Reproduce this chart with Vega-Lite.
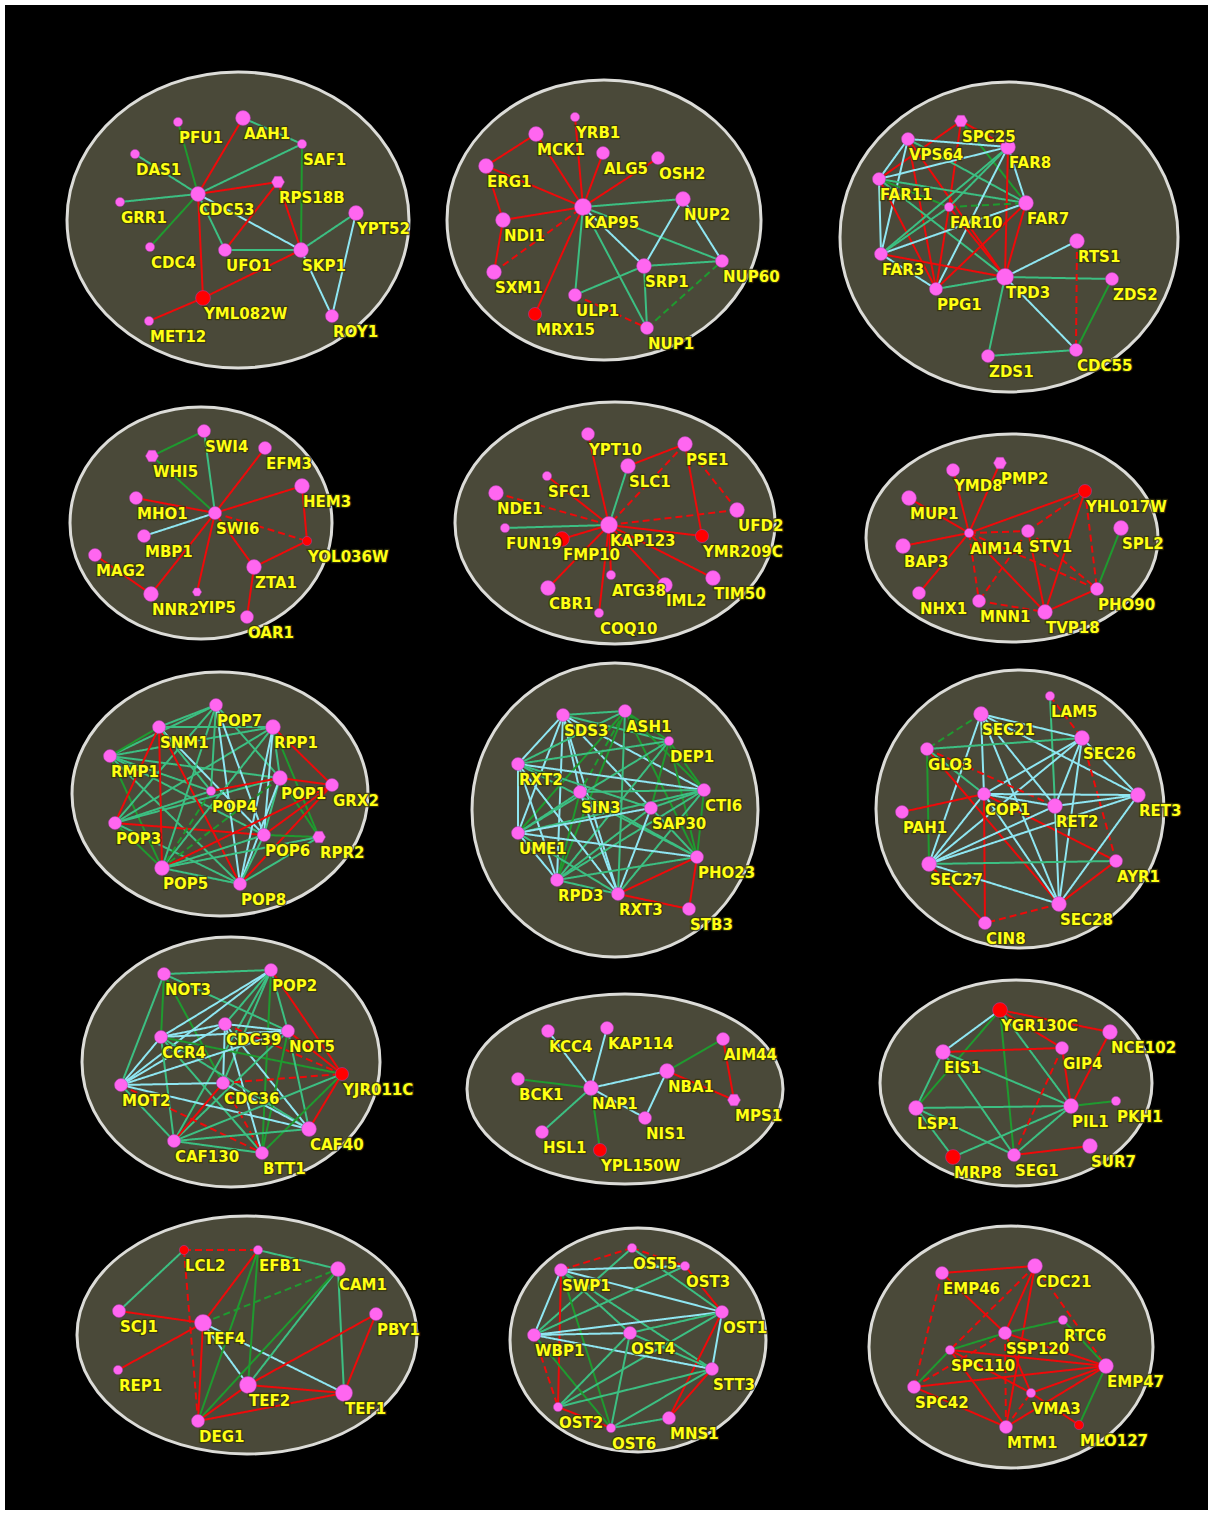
{
"$schema":"https://vega.github.io/schema/vega-lite/v6.json",
"width":1203,"height":1505,"padding":5,"autosize":{"type":"none"},
"background":"#ffffff",
"config":{"view":{"stroke":null,"fill":"#000000"}},
"datasets":{
"panels":[
{"p":1,"cx":238,"cy":220},{"p":2,"cx":604,"cy":220},{"p":3,"cx":1009,"cy":237},
{"p":4,"cx":201,"cy":523},{"p":5,"cx":615,"cy":523},{"p":6,"cx":1012,"cy":538},
{"p":7,"cx":220,"cy":794},{"p":8,"cx":615,"cy":810},{"p":9,"cx":1020,"cy":809},
{"p":10,"cx":231,"cy":1062},{"p":11,"cx":625,"cy":1089},{"p":12,"cx":1016,"cy":1083},
{"p":13,"cx":247,"cy":1335},{"p":14,"cx":638,"cy":1340},{"p":15,"cx":1011,"cy":1347}],
"nodes":[
{"n":"PFU1","x":178,"y":122,"z":"s","k":"p","h":"c"},
{"n":"AAH1","x":243,"y":118,"z":"l","k":"p","h":"c"},
{"n":"SAF1","x":302,"y":144,"z":"s","k":"p","h":"c"},
{"n":"DAS1","x":135,"y":154,"z":"s","k":"p","h":"c"},
{"n":"CDC53","x":198,"y":194,"z":"l","k":"p","h":"c"},
{"n":"RPS18B","x":278,"y":182,"z":"m","k":"p","h":"h"},
{"n":"GRR1","x":120,"y":202,"z":"s","k":"p","h":"c"},
{"n":"YPT52","x":356,"y":213,"z":"l","k":"p","h":"c"},
{"n":"CDC4","x":150,"y":247,"z":"s","k":"p","h":"c"},
{"n":"UFO1","x":225,"y":250,"z":"m","k":"p","h":"c"},
{"n":"SKP1","x":301,"y":250,"z":"l","k":"p","h":"c"},
{"n":"YML082W","x":203,"y":298,"z":"l","k":"r","h":"c"},
{"n":"MET12","x":149,"y":321,"z":"s","k":"p","h":"c"},
{"n":"ROY1","x":332,"y":316,"z":"m","k":"p","h":"c"},
{"n":"YRB1","x":575,"y":117,"z":"s","k":"p","h":"c"},
{"n":"MCK1","x":536,"y":134,"z":"l","k":"p","h":"c"},
{"n":"ALG5","x":603,"y":153,"z":"m","k":"p","h":"c"},
{"n":"OSH2","x":658,"y":158,"z":"m","k":"p","h":"c"},
{"n":"ERG1","x":486,"y":166,"z":"l","k":"p","h":"c"},
{"n":"KAP95","x":583,"y":207,"z":"x","k":"p","h":"c"},
{"n":"NUP2","x":683,"y":199,"z":"l","k":"p","h":"c"},
{"n":"NDI1","x":503,"y":220,"z":"l","k":"p","h":"c"},
{"n":"SRP1","x":644,"y":266,"z":"l","k":"p","h":"c"},
{"n":"NUP60","x":722,"y":261,"z":"m","k":"p","h":"c"},
{"n":"SXM1","x":494,"y":272,"z":"l","k":"p","h":"c"},
{"n":"ULP1","x":575,"y":295,"z":"m","k":"p","h":"c"},
{"n":"MRX15","x":535,"y":314,"z":"m","k":"r","h":"c"},
{"n":"NUP1","x":647,"y":328,"z":"m","k":"p","h":"c"},
{"n":"SPC25","x":961,"y":121,"z":"m","k":"p","h":"h"},
{"n":"VPS64","x":908,"y":139,"z":"m","k":"p","h":"c"},
{"n":"FAR8","x":1008,"y":147,"z":"l","k":"p","h":"c"},
{"n":"FAR11","x":879,"y":179,"z":"m","k":"p","h":"c"},
{"n":"FAR10","x":949,"y":207,"z":"s","k":"p","h":"c"},
{"n":"FAR7","x":1026,"y":203,"z":"l","k":"p","h":"c"},
{"n":"RTS1","x":1077,"y":241,"z":"l","k":"p","h":"c"},
{"n":"FAR3","x":881,"y":254,"z":"m","k":"p","h":"c"},
{"n":"TPD3","x":1005,"y":277,"z":"x","k":"p","h":"c"},
{"n":"ZDS2","x":1112,"y":279,"z":"m","k":"p","h":"c"},
{"n":"PPG1","x":936,"y":289,"z":"m","k":"p","h":"c"},
{"n":"ZDS1","x":988,"y":356,"z":"m","k":"p","h":"c"},
{"n":"CDC55","x":1076,"y":350,"z":"m","k":"p","h":"c"},
{"n":"SWI4","x":204,"y":431,"z":"m","k":"p","h":"c"},
{"n":"WHI5","x":152,"y":456,"z":"m","k":"p","h":"h"},
{"n":"EFM3","x":265,"y":448,"z":"m","k":"p","h":"c"},
{"n":"HEM3","x":302,"y":486,"z":"l","k":"p","h":"c"},
{"n":"MHO1","x":136,"y":498,"z":"m","k":"p","h":"c"},
{"n":"SWI6","x":215,"y":513,"z":"m","k":"p","h":"c"},
{"n":"MBP1","x":144,"y":536,"z":"m","k":"p","h":"c"},
{"n":"YOL036W","x":307,"y":541,"z":"s","k":"r","h":"c"},
{"n":"MAG2","x":95,"y":555,"z":"m","k":"p","h":"c"},
{"n":"ZTA1","x":254,"y":567,"z":"l","k":"p","h":"c"},
{"n":"NNR2","x":151,"y":594,"z":"l","k":"p","h":"c"},
{"n":"YIP5","x":197,"y":592,"z":"s","k":"p","h":"h"},
{"n":"OAR1","x":247,"y":617,"z":"m","k":"p","h":"c"},
{"n":"YPT10","x":588,"y":434,"z":"m","k":"p","h":"c"},
{"n":"PSE1","x":685,"y":444,"z":"l","k":"p","h":"c"},
{"n":"SLC1","x":628,"y":466,"z":"l","k":"p","h":"c"},
{"n":"SFC1","x":547,"y":476,"z":"s","k":"p","h":"c"},
{"n":"NDE1","x":496,"y":493,"z":"l","k":"p","h":"c"},
{"n":"UFD2","x":737,"y":510,"z":"l","k":"p","h":"c"},
{"n":"KAP123","x":609,"y":525,"z":"x","k":"p","h":"c"},
{"n":"FUN19","x":505,"y":528,"z":"s","k":"p","h":"c"},
{"n":"FMP10","x":562,"y":539,"z":"l","k":"r","h":"c"},
{"n":"YMR209C","x":702,"y":536,"z":"m","k":"r","h":"c"},
{"n":"ATG38","x":611,"y":575,"z":"s","k":"p","h":"c"},
{"n":"IML2","x":665,"y":585,"z":"l","k":"p","h":"c"},
{"n":"TIM50","x":713,"y":578,"z":"l","k":"p","h":"c"},
{"n":"CBR1","x":548,"y":588,"z":"l","k":"p","h":"c"},
{"n":"COQ10","x":599,"y":613,"z":"s","k":"p","h":"c"},
{"n":"PMP2","x":1000,"y":463,"z":"m","k":"p","h":"h"},
{"n":"YMD8","x":953,"y":470,"z":"m","k":"p","h":"c"},
{"n":"YHL017W","x":1085,"y":491,"z":"m","k":"r","h":"c"},
{"n":"MUP1","x":909,"y":498,"z":"l","k":"p","h":"c"},
{"n":"SPL2","x":1121,"y":528,"z":"l","k":"p","h":"c"},
{"n":"AIM14","x":969,"y":533,"z":"s","k":"p","h":"c"},
{"n":"STV1","x":1028,"y":531,"z":"m","k":"p","h":"c"},
{"n":"BAP3","x":903,"y":546,"z":"l","k":"p","h":"c"},
{"n":"PHO90","x":1097,"y":589,"z":"m","k":"p","h":"c"},
{"n":"NHX1","x":919,"y":593,"z":"m","k":"p","h":"c"},
{"n":"MNN1","x":979,"y":601,"z":"m","k":"p","h":"c"},
{"n":"TVP18","x":1045,"y":612,"z":"l","k":"p","h":"c"},
{"n":"POP7","x":216,"y":705,"z":"m","k":"p","h":"c"},
{"n":"SNM1","x":159,"y":727,"z":"m","k":"p","h":"c"},
{"n":"RPP1","x":273,"y":727,"z":"l","k":"p","h":"c"},
{"n":"RMP1","x":110,"y":756,"z":"m","k":"p","h":"c"},
{"n":"POP1","x":280,"y":778,"z":"l","k":"p","h":"c"},
{"n":"GRX2","x":332,"y":785,"z":"m","k":"p","h":"c"},
{"n":"POP4","x":211,"y":791,"z":"s","k":"p","h":"c"},
{"n":"POP3","x":115,"y":823,"z":"m","k":"p","h":"c"},
{"n":"POP6","x":264,"y":835,"z":"m","k":"p","h":"c"},
{"n":"RPR2","x":319,"y":837,"z":"m","k":"p","h":"h"},
{"n":"POP5","x":162,"y":868,"z":"l","k":"p","h":"c"},
{"n":"POP8","x":240,"y":884,"z":"m","k":"p","h":"c"},
{"n":"SDS3","x":563,"y":715,"z":"m","k":"p","h":"c"},
{"n":"ASH1","x":625,"y":711,"z":"m","k":"p","h":"c"},
{"n":"DEP1","x":669,"y":741,"z":"s","k":"p","h":"c"},
{"n":"RXT2","x":518,"y":764,"z":"m","k":"p","h":"c"},
{"n":"CTI6","x":704,"y":790,"z":"m","k":"p","h":"c"},
{"n":"SIN3","x":580,"y":792,"z":"m","k":"p","h":"c"},
{"n":"SAP30","x":651,"y":808,"z":"m","k":"p","h":"c"},
{"n":"UME1","x":518,"y":833,"z":"m","k":"p","h":"c"},
{"n":"PHO23","x":697,"y":857,"z":"m","k":"p","h":"c"},
{"n":"RPD3","x":557,"y":880,"z":"m","k":"p","h":"c"},
{"n":"RXT3","x":618,"y":894,"z":"m","k":"p","h":"c"},
{"n":"STB3","x":689,"y":909,"z":"m","k":"p","h":"c"},
{"n":"LAM5","x":1050,"y":696,"z":"s","k":"p","h":"c"},
{"n":"SEC21","x":981,"y":714,"z":"l","k":"p","h":"c"},
{"n":"SEC26","x":1082,"y":738,"z":"l","k":"p","h":"c"},
{"n":"GLO3","x":927,"y":749,"z":"m","k":"p","h":"c"},
{"n":"COP1","x":984,"y":794,"z":"m","k":"p","h":"c"},
{"n":"RET3","x":1138,"y":795,"z":"l","k":"p","h":"c"},
{"n":"RET2","x":1055,"y":806,"z":"l","k":"p","h":"c"},
{"n":"PAH1","x":902,"y":812,"z":"m","k":"p","h":"c"},
{"n":"SEC27","x":929,"y":864,"z":"l","k":"p","h":"c"},
{"n":"AYR1","x":1116,"y":861,"z":"m","k":"p","h":"c"},
{"n":"SEC28","x":1059,"y":904,"z":"l","k":"p","h":"c"},
{"n":"CIN8","x":985,"y":923,"z":"m","k":"p","h":"c"},
{"n":"NOT3","x":164,"y":974,"z":"m","k":"p","h":"c"},
{"n":"POP2","x":271,"y":970,"z":"m","k":"p","h":"c"},
{"n":"CDC39","x":225,"y":1024,"z":"m","k":"p","h":"c"},
{"n":"NOT5","x":288,"y":1031,"z":"m","k":"p","h":"c"},
{"n":"CCR4","x":161,"y":1037,"z":"m","k":"p","h":"c"},
{"n":"YJR011C","x":342,"y":1074,"z":"m","k":"r","h":"c"},
{"n":"MOT2","x":121,"y":1085,"z":"m","k":"p","h":"c"},
{"n":"CDC36","x":223,"y":1083,"z":"m","k":"p","h":"c"},
{"n":"CAF40","x":309,"y":1129,"z":"l","k":"p","h":"c"},
{"n":"CAF130","x":174,"y":1141,"z":"m","k":"p","h":"c"},
{"n":"BTT1","x":262,"y":1153,"z":"m","k":"p","h":"c"},
{"n":"KCC4","x":548,"y":1031,"z":"m","k":"p","h":"c"},
{"n":"KAP114","x":607,"y":1028,"z":"m","k":"p","h":"c"},
{"n":"AIM44","x":723,"y":1039,"z":"m","k":"p","h":"c"},
{"n":"NBA1","x":667,"y":1071,"z":"l","k":"p","h":"c"},
{"n":"BCK1","x":518,"y":1079,"z":"m","k":"p","h":"c"},
{"n":"NAP1","x":591,"y":1088,"z":"l","k":"p","h":"c"},
{"n":"MPS1","x":734,"y":1100,"z":"m","k":"p","h":"h"},
{"n":"NIS1","x":645,"y":1118,"z":"m","k":"p","h":"c"},
{"n":"HSL1","x":542,"y":1132,"z":"m","k":"p","h":"c"},
{"n":"YPL150W","x":600,"y":1150,"z":"m","k":"r","h":"c"},
{"n":"YGR130C","x":1000,"y":1010,"z":"l","k":"r","h":"c"},
{"n":"NCE102","x":1110,"y":1032,"z":"l","k":"p","h":"c"},
{"n":"EIS1","x":943,"y":1052,"z":"l","k":"p","h":"c"},
{"n":"GIP4","x":1062,"y":1048,"z":"m","k":"p","h":"c"},
{"n":"LSP1","x":916,"y":1108,"z":"l","k":"p","h":"c"},
{"n":"PIL1","x":1071,"y":1106,"z":"l","k":"p","h":"c"},
{"n":"PKH1","x":1116,"y":1101,"z":"s","k":"p","h":"c"},
{"n":"SUR7","x":1090,"y":1146,"z":"l","k":"p","h":"c"},
{"n":"MRP8","x":953,"y":1157,"z":"l","k":"r","h":"c"},
{"n":"SEG1","x":1014,"y":1155,"z":"m","k":"p","h":"c"},
{"n":"LCL2","x":184,"y":1250,"z":"s","k":"r","h":"c"},
{"n":"EFB1","x":258,"y":1250,"z":"s","k":"p","h":"c"},
{"n":"CAM1","x":338,"y":1269,"z":"l","k":"p","h":"c"},
{"n":"SCJ1","x":119,"y":1311,"z":"m","k":"p","h":"c"},
{"n":"TEF4","x":203,"y":1323,"z":"x","k":"p","h":"c"},
{"n":"PBY1","x":376,"y":1314,"z":"m","k":"p","h":"c"},
{"n":"REP1","x":118,"y":1370,"z":"s","k":"p","h":"c"},
{"n":"TEF2","x":248,"y":1385,"z":"x","k":"p","h":"c"},
{"n":"TEF1","x":344,"y":1393,"z":"x","k":"p","h":"c"},
{"n":"DEG1","x":198,"y":1421,"z":"m","k":"p","h":"c"},
{"n":"OST5","x":632,"y":1248,"z":"s","k":"p","h":"c"},
{"n":"SWP1","x":561,"y":1270,"z":"m","k":"p","h":"c"},
{"n":"OST3","x":685,"y":1266,"z":"s","k":"p","h":"c"},
{"n":"OST1","x":722,"y":1312,"z":"m","k":"p","h":"c"},
{"n":"WBP1","x":534,"y":1335,"z":"m","k":"p","h":"c"},
{"n":"OST4","x":630,"y":1333,"z":"m","k":"p","h":"c"},
{"n":"STT3","x":712,"y":1369,"z":"m","k":"p","h":"c"},
{"n":"OST2","x":558,"y":1407,"z":"s","k":"p","h":"c"},
{"n":"MNS1","x":669,"y":1418,"z":"m","k":"p","h":"c"},
{"n":"OST6","x":611,"y":1428,"z":"s","k":"p","h":"c"},
{"n":"EMP46","x":942,"y":1273,"z":"m","k":"p","h":"c"},
{"n":"CDC21","x":1035,"y":1266,"z":"l","k":"p","h":"c"},
{"n":"RTC6","x":1063,"y":1320,"z":"s","k":"p","h":"c"},
{"n":"SSP120","x":1005,"y":1333,"z":"m","k":"p","h":"c"},
{"n":"SPC110","x":950,"y":1350,"z":"s","k":"p","h":"c"},
{"n":"EMP47","x":1106,"y":1366,"z":"l","k":"p","h":"c"},
{"n":"SPC42","x":914,"y":1387,"z":"m","k":"p","h":"c"},
{"n":"VMA3","x":1031,"y":1393,"z":"s","k":"p","h":"c"},
{"n":"MTM1","x":1006,"y":1427,"z":"m","k":"p","h":"c"},
{"n":"MLO127","x":1079,"y":1425,"z":"s","k":"r","h":"c"}],
"edges":[
{"s":"CDC53","t":"PFU1","c":"g"},{"s":"CDC53","t":"AAH1","c":"r"},{"s":"AAH1","t":"SAF1","c":"t"},{"s":"CDC53","t":"DAS1","c":"t"},{"s":"CDC53","t":"SAF1","c":"t"},{"s":"RPS18B","t":"CDC53","c":"r"},{"s":"CDC53","t":"GRR1","c":"t"},{"s":"CDC53","t":"CDC4","c":"g"},{"s":"CDC53","t":"UFO1","c":"t"},{"s":"CDC53","t":"SKP1","c":"c"},{"s":"RPS18B","t":"UFO1","c":"r"},{"s":"RPS18B","t":"SKP1","c":"r"},{"s":"SKP1","t":"SAF1","c":"g"},{"s":"UFO1","t":"SKP1","c":"t"},{"s":"YPT52","t":"SKP1","c":"t"},{"s":"YPT52","t":"ROY1","c":"c"},{"s":"SKP1","t":"ROY1","c":"c"},{"s":"CDC53","t":"YML082W","c":"r"},{"s":"YML082W","t":"SKP1","c":"r"},{"s":"YML082W","t":"MET12","c":"r"},
{"s":"ERG1","t":"MCK1","c":"r"},{"s":"ERG1","t":"KAP95","c":"r"},{"s":"ERG1","t":"NDI1","c":"r"},{"s":"NDI1","t":"SXM1","c":"r"},{"s":"NDI1","t":"KAP95","c":"r"},{"s":"SXM1","t":"KAP95","c":"R"},{"s":"MCK1","t":"KAP95","c":"r"},{"s":"YRB1","t":"KAP95","c":"r"},{"s":"ALG5","t":"KAP95","c":"r"},{"s":"OSH2","t":"KAP95","c":"r"},{"s":"KAP95","t":"MRX15","c":"r"},{"s":"KAP95","t":"NUP2","c":"t"},{"s":"KAP95","t":"SRP1","c":"c"},{"s":"KAP95","t":"NUP60","c":"t"},{"s":"KAP95","t":"ULP1","c":"t"},{"s":"KAP95","t":"NUP1","c":"t"},{"s":"NUP2","t":"SRP1","c":"c"},{"s":"NUP2","t":"NUP60","c":"c"},{"s":"SRP1","t":"NUP60","c":"t"},{"s":"SRP1","t":"ULP1","c":"t"},{"s":"SRP1","t":"NUP1","c":"t"},{"s":"ULP1","t":"NUP1","c":"R"},{"s":"NUP1","t":"NUP60","c":"G"},
{"s":"SPC25","t":"FAR11","c":"r"},{"s":"SPC25","t":"FAR8","c":"r"},{"s":"SPC25","t":"FAR10","c":"r"},{"s":"SPC25","t":"FAR7","c":"g"},{"s":"VPS64","t":"FAR8","c":"c"},{"s":"VPS64","t":"FAR11","c":"c"},{"s":"VPS64","t":"FAR3","c":"c"},{"s":"VPS64","t":"PPG1","c":"r"},{"s":"VPS64","t":"TPD3","c":"r"},{"s":"VPS64","t":"FAR7","c":"t"},{"s":"FAR11","t":"FAR8","c":"c"},{"s":"FAR11","t":"FAR7","c":"t"},{"s":"FAR11","t":"FAR10","c":"g"},{"s":"FAR11","t":"FAR3","c":"c"},{"s":"FAR11","t":"PPG1","c":"r"},{"s":"FAR11","t":"TPD3","c":"t"},{"s":"FAR8","t":"FAR3","c":"t"},{"s":"FAR8","t":"PPG1","c":"c"},{"s":"FAR8","t":"FAR7","c":"c"},{"s":"FAR8","t":"TPD3","c":"r"},{"s":"FAR8","t":"FAR10","c":"t"},{"s":"FAR10","t":"FAR7","c":"G"},{"s":"FAR10","t":"PPG1","c":"r"},{"s":"FAR10","t":"TPD3","c":"r"},{"s":"FAR7","t":"FAR3","c":"c"},{"s":"FAR7","t":"PPG1","c":"r"},{"s":"FAR7","t":"TPD3","c":"r"},{"s":"FAR3","t":"TPD3","c":"r"},{"s":"FAR3","t":"PPG1","c":"c"},{"s":"FAR3","t":"FAR10","c":"t"},{"s":"TPD3","t":"PPG1","c":"t"},{"s":"TPD3","t":"RTS1","c":"c"},{"s":"TPD3","t":"ZDS2","c":"t"},{"s":"TPD3","t":"ZDS1","c":"t"},{"s":"TPD3","t":"CDC55","c":"c"},{"s":"RTS1","t":"CDC55","c":"R"},{"s":"ZDS2","t":"CDC55","c":"g"},{"s":"ZDS1","t":"CDC55","c":"t"},
{"s":"WHI5","t":"SWI4","c":"g"},{"s":"WHI5","t":"SWI6","c":"g"},{"s":"SWI4","t":"SWI6","c":"t"},{"s":"EFM3","t":"SWI6","c":"r"},{"s":"HEM3","t":"SWI6","c":"r"},{"s":"HEM3","t":"YOL036W","c":"r"},{"s":"MHO1","t":"SWI6","c":"r"},{"s":"MBP1","t":"SWI6","c":"c"},{"s":"SWI6","t":"YOL036W","c":"R"},{"s":"SWI6","t":"ZTA1","c":"r"},{"s":"ZTA1","t":"YOL036W","c":"r"},{"s":"NNR2","t":"SWI6","c":"r"},{"s":"YIP5","t":"SWI6","c":"r"},{"s":"MAG2","t":"NNR2","c":"r"},{"s":"OAR1","t":"ZTA1","c":"r"},
{"s":"YPT10","t":"KAP123","c":"r"},{"s":"SFC1","t":"KAP123","c":"r"},{"s":"NDE1","t":"KAP123","c":"R"},{"s":"SLC1","t":"KAP123","c":"t"},{"s":"PSE1","t":"SLC1","c":"r"},{"s":"PSE1","t":"KAP123","c":"R"},{"s":"PSE1","t":"YMR209C","c":"r"},{"s":"PSE1","t":"UFD2","c":"R"},{"s":"UFD2","t":"KAP123","c":"R"},{"s":"KAP123","t":"FUN19","c":"t"},{"s":"KAP123","t":"FMP10","c":"r"},{"s":"KAP123","t":"YMR209C","c":"r"},{"s":"KAP123","t":"CBR1","c":"r"},{"s":"KAP123","t":"COQ10","c":"r"},{"s":"KAP123","t":"ATG38","c":"r"},{"s":"KAP123","t":"IML2","c":"r"},{"s":"KAP123","t":"TIM50","c":"r"},
{"s":"YMD8","t":"AIM14","c":"r"},{"s":"PMP2","t":"AIM14","c":"r"},{"s":"MUP1","t":"AIM14","c":"r"},{"s":"BAP3","t":"AIM14","c":"r"},{"s":"NHX1","t":"AIM14","c":"r"},{"s":"YHL017W","t":"AIM14","c":"r"},{"s":"AIM14","t":"STV1","c":"R"},{"s":"STV1","t":"YHL017W","c":"R"},{"s":"AIM14","t":"MNN1","c":"R"},{"s":"AIM14","t":"TVP18","c":"r"},{"s":"AIM14","t":"PHO90","c":"R"},{"s":"STV1","t":"MNN1","c":"R"},{"s":"STV1","t":"TVP18","c":"r"},{"s":"STV1","t":"PHO90","c":"R"},{"s":"MNN1","t":"TVP18","c":"R"},{"s":"TVP18","t":"YHL017W","c":"r"},{"s":"TVP18","t":"PHO90","c":"r"},{"s":"YHL017W","t":"PHO90","c":"R"},{"s":"SPL2","t":"PHO90","c":"g"},
{"s":"SNM1","t":"POP7","c":"t"},{"s":"RPP1","t":"SNM1","c":"c"},{"s":"RMP1","t":"POP7","c":"t"},{"s":"RMP1","t":"SNM1","c":"g"},{"s":"RMP1","t":"RPP1","c":"t"},{"s":"RMP1","t":"POP1","c":"t"},{"s":"RMP1","t":"POP4","c":"t"},{"s":"RMP1","t":"POP6","c":"t"},{"s":"RMP1","t":"POP8","c":"t"},{"s":"RMP1","t":"POP5","c":"g"},{"s":"POP3","t":"SNM1","c":"r"},{"s":"POP3","t":"POP7","c":"t"},{"s":"POP3","t":"RPP1","c":"t"},{"s":"POP3","t":"POP1","c":"t"},{"s":"POP3","t":"POP6","c":"r"},{"s":"POP3","t":"POP5","c":"g"},{"s":"POP3","t":"POP8","c":"t"},{"s":"SNM1","t":"POP5","c":"r"},{"s":"SNM1","t":"POP8","c":"r"},{"s":"SNM1","t":"POP6","c":"c"},{"s":"SNM1","t":"POP4","c":"t"},{"s":"SNM1","t":"RPP1","c":"t"},{"s":"POP7","t":"POP4","c":"t"},{"s":"POP7","t":"POP8","c":"c"},{"s":"POP7","t":"POP6","c":"c"},{"s":"POP7","t":"POP5","c":"t"},{"s":"POP7","t":"POP1","c":"t"},{"s":"RPP1","t":"POP1","c":"t"},{"s":"RPP1","t":"GRX2","c":"r"},{"s":"RPP1","t":"POP6","c":"c"},{"s":"RPP1","t":"POP8","c":"c"},{"s":"RPP1","t":"POP5","c":"t"},{"s":"RPP1","t":"RPR2","c":"g"},{"s":"POP1","t":"GRX2","c":"r"},{"s":"POP1","t":"POP4","c":"r"},{"s":"POP1","t":"POP5","c":"G"},{"s":"POP1","t":"POP6","c":"t"},{"s":"POP1","t":"POP8","c":"c"},{"s":"POP1","t":"RPR2","c":"g"},{"s":"GRX2","t":"POP5","c":"r"},{"s":"GRX2","t":"POP6","c":"r"},{"s":"GRX2","t":"POP8","c":"r"},{"s":"RPR2","t":"POP6","c":"g"},{"s":"RPR2","t":"POP8","c":"t"},{"s":"RPR2","t":"POP5","c":"t"},{"s":"POP6","t":"POP5","c":"t"},{"s":"POP6","t":"POP8","c":"t"},{"s":"POP4","t":"POP5","c":"G"},{"s":"POP5","t":"POP8","c":"t"},{"s":"POP3","t":"POP4","c":"t"},
{"s":"SDS3","t":"ASH1","c":"t"},{"s":"SDS3","t":"DEP1","c":"t"},{"s":"SDS3","t":"RXT2","c":"c"},{"s":"SDS3","t":"UME1","c":"c"},{"s":"SDS3","t":"RPD3","c":"c"},{"s":"SDS3","t":"SAP30","c":"c"},{"s":"SDS3","t":"CTI6","c":"c"},{"s":"SDS3","t":"SIN3","c":"c"},{"s":"SDS3","t":"RXT3","c":"c"},{"s":"ASH1","t":"RXT2","c":"t"},{"s":"ASH1","t":"UME1","c":"g"},{"s":"ASH1","t":"SIN3","c":"G"},{"s":"ASH1","t":"RPD3","c":"g"},{"s":"ASH1","t":"RXT3","c":"t"},{"s":"ASH1","t":"CTI6","c":"g"},{"s":"ASH1","t":"PHO23","c":"g"},{"s":"ASH1","t":"DEP1","c":"g"},{"s":"DEP1","t":"RXT2","c":"t"},{"s":"DEP1","t":"UME1","c":"t"},{"s":"DEP1","t":"SAP30","c":"g"},{"s":"DEP1","t":"PHO23","c":"g"},{"s":"DEP1","t":"CTI6","c":"g"},{"s":"DEP1","t":"RPD3","c":"t"},{"s":"RXT2","t":"UME1","c":"c"},{"s":"RXT2","t":"RPD3","c":"c"},{"s":"RXT2","t":"RXT3","c":"c"},{"s":"RXT2","t":"CTI6","c":"c"},{"s":"RXT2","t":"SAP30","c":"t"},{"s":"RXT2","t":"PHO23","c":"t"},{"s":"CTI6","t":"SIN3","c":"t"},{"s":"CTI6","t":"SAP30","c":"t"},{"s":"CTI6","t":"UME1","c":"t"},{"s":"CTI6","t":"PHO23","c":"g"},{"s":"CTI6","t":"RPD3","c":"t"},{"s":"CTI6","t":"RXT3","c":"t"},{"s":"SIN3","t":"RPD3","c":"g"},{"s":"SIN3","t":"RXT3","c":"c"},{"s":"SIN3","t":"PHO23","c":"t"},{"s":"SIN3","t":"UME1","c":"t"},{"s":"SAP30","t":"UME1","c":"c"},{"s":"SAP30","t":"RPD3","c":"t"},{"s":"SAP30","t":"RXT3","c":"c"},{"s":"SAP30","t":"PHO23","c":"t"},{"s":"UME1","t":"RPD3","c":"c"},{"s":"UME1","t":"RXT3","c":"t"},{"s":"UME1","t":"PHO23","c":"c"},{"s":"RPD3","t":"PHO23","c":"t"},{"s":"RPD3","t":"RXT3","c":"t"},{"s":"RXT3","t":"PHO23","c":"r"},{"s":"STB3","t":"RXT3","c":"r"},{"s":"STB3","t":"PHO23","c":"r"},
{"s":"LAM5","t":"SEC26","c":"R"},{"s":"LAM5","t":"RET2","c":"t"},{"s":"SEC21","t":"GLO3","c":"G"},{"s":"SEC21","t":"SEC26","c":"c"},{"s":"SEC21","t":"COP1","c":"c"},{"s":"SEC21","t":"RET2","c":"c"},{"s":"SEC21","t":"RET3","c":"c"},{"s":"SEC21","t":"SEC27","c":"c"},{"s":"SEC21","t":"SEC28","c":"c"},{"s":"SEC26","t":"GLO3","c":"t"},{"s":"SEC26","t":"COP1","c":"c"},{"s":"SEC26","t":"RET2","c":"c"},{"s":"SEC26","t":"RET3","c":"c"},{"s":"SEC26","t":"SEC27","c":"c"},{"s":"SEC26","t":"SEC28","c":"c"},{"s":"SEC26","t":"AYR1","c":"R"},{"s":"GLO3","t":"SEC27","c":"g"},{"s":"GLO3","t":"RET2","c":"R"},{"s":"GLO3","t":"SEC28","c":"r"},{"s":"GLO3","t":"COP1","c":"t"},{"s":"COP1","t":"PAH1","c":"r"},{"s":"COP1","t":"RET2","c":"c"},{"s":"COP1","t":"RET3","c":"c"},{"s":"COP1","t":"SEC27","c":"c"},{"s":"COP1","t":"SEC28","c":"c"},{"s":"COP1","t":"CIN8","c":"r"},{"s":"COP1","t":"AYR1","c":"r"},{"s":"RET2","t":"RET3","c":"c"},{"s":"RET2","t":"SEC27","c":"c"},{"s":"RET2","t":"SEC28","c":"c"},{"s":"RET3","t":"SEC27","c":"c"},{"s":"RET3","t":"SEC28","c":"c"},{"s":"SEC27","t":"AYR1","c":"t"},{"s":"SEC27","t":"SEC28","c":"c"},{"s":"SEC27","t":"CIN8","c":"r"},{"s":"SEC28","t":"AYR1","c":"r"},{"s":"SEC28","t":"CIN8","c":"R"},
{"s":"NOT3","t":"POP2","c":"t"},{"s":"NOT3","t":"CCR4","c":"g"},{"s":"NOT3","t":"MOT2","c":"t"},{"s":"NOT3","t":"NOT5","c":"t"},{"s":"NOT3","t":"CDC36","c":"g"},{"s":"POP2","t":"CCR4","c":"c"},{"s":"POP2","t":"MOT2","c":"c"},{"s":"POP2","t":"CDC39","c":"t"},{"s":"POP2","t":"NOT5","c":"t"},{"s":"POP2","t":"CDC36","c":"t"},{"s":"POP2","t":"BTT1","c":"g"},{"s":"POP2","t":"YJR011C","c":"r"},{"s":"POP2","t":"CAF130","c":"t"},{"s":"CDC39","t":"CCR4","c":"c"},{"s":"CDC39","t":"NOT5","c":"c"},{"s":"CDC39","t":"MOT2","c":"c"},{"s":"CDC39","t":"CDC36","c":"c"},{"s":"CDC39","t":"BTT1","c":"c"},{"s":"CDC39","t":"CAF40","c":"c"},{"s":"CDC39","t":"YJR011C","c":"R"},{"s":"NOT5","t":"YJR011C","c":"r"},{"s":"CCR4","t":"NOT5","c":"c"},{"s":"CCR4","t":"MOT2","c":"c"},{"s":"CCR4","t":"YJR011C","c":"g"},{"s":"CCR4","t":"CAF130","c":"t"},{"s":"CCR4","t":"CAF40","c":"t"},{"s":"CCR4","t":"BTT1","c":"t"},{"s":"NOT5","t":"MOT2","c":"c"},{"s":"NOT5","t":"CAF40","c":"t"},{"s":"NOT5","t":"BTT1","c":"g"},{"s":"NOT5","t":"CAF130","c":"t"},{"s":"MOT2","t":"CDC36","c":"c"},{"s":"MOT2","t":"CAF40","c":"c"},{"s":"MOT2","t":"CAF130","c":"t"},{"s":"MOT2","t":"BTT1","c":"R"},{"s":"CDC36","t":"YJR011C","c":"R"},{"s":"CDC36","t":"CAF130","c":"r"},{"s":"CDC36","t":"BTT1","c":"R"},{"s":"CDC36","t":"CAF40","c":"c"},{"s":"YJR011C","t":"CAF40","c":"r"},{"s":"YJR011C","t":"BTT1","c":"g"},{"s":"YJR011C","t":"CAF130","c":"t"},{"s":"CAF40","t":"CAF130","c":"t"},{"s":"BTT1","t":"CAF130","c":"t"},
{"s":"KCC4","t":"NAP1","c":"c"},{"s":"KAP114","t":"NAP1","c":"c"},{"s":"NAP1","t":"BCK1","c":"g"},{"s":"NAP1","t":"NBA1","c":"c"},{"s":"NAP1","t":"NIS1","c":"c"},{"s":"NAP1","t":"HSL1","c":"t"},{"s":"NAP1","t":"YPL150W","c":"g"},{"s":"NIS1","t":"NBA1","c":"c"},{"s":"AIM44","t":"NBA1","c":"g"},{"s":"AIM44","t":"MPS1","c":"r"},{"s":"MPS1","t":"NBA1","c":"r"},
{"s":"YGR130C","t":"EIS1","c":"c"},{"s":"YGR130C","t":"NCE102","c":"r"},{"s":"YGR130C","t":"GIP4","c":"r"},{"s":"YGR130C","t":"LSP1","c":"g"},{"s":"YGR130C","t":"SEG1","c":"g"},{"s":"YGR130C","t":"PIL1","c":"t"},{"s":"EIS1","t":"GIP4","c":"r"},{"s":"EIS1","t":"LSP1","c":"t"},{"s":"EIS1","t":"PIL1","c":"t"},{"s":"EIS1","t":"SEG1","c":"t"},{"s":"LSP1","t":"PIL1","c":"t"},{"s":"LSP1","t":"MRP8","c":"t"},{"s":"LSP1","t":"SEG1","c":"t"},{"s":"PIL1","t":"MRP8","c":"t"},{"s":"PIL1","t":"SEG1","c":"t"},{"s":"PIL1","t":"PKH1","c":"g"},{"s":"PIL1","t":"GIP4","c":"r"},{"s":"PIL1","t":"NCE102","c":"r"},{"s":"GIP4","t":"SEG1","c":"R"},{"s":"SUR7","t":"SEG1","c":"r"},
{"s":"LCL2","t":"EFB1","c":"R"},{"s":"LCL2","t":"DEG1","c":"R"},{"s":"SCJ1","t":"LCL2","c":"t"},{"s":"SCJ1","t":"TEF4","c":"r"},{"s":"TEF4","t":"REP1","c":"r"},{"s":"TEF4","t":"EFB1","c":"r"},{"s":"TEF4","t":"CAM1","c":"G"},{"s":"TEF4","t":"TEF2","c":"c"},{"s":"TEF4","t":"TEF1","c":"c"},{"s":"TEF4","t":"DEG1","c":"r"},{"s":"EFB1","t":"CAM1","c":"t"},{"s":"EFB1","t":"TEF2","c":"g"},{"s":"EFB1","t":"DEG1","c":"g"},{"s":"CAM1","t":"TEF2","c":"t"},{"s":"CAM1","t":"TEF1","c":"t"},{"s":"CAM1","t":"DEG1","c":"g"},{"s":"TEF2","t":"TEF1","c":"r"},{"s":"TEF2","t":"DEG1","c":"r"},{"s":"PBY1","t":"TEF1","c":"r"},{"s":"TEF1","t":"DEG1","c":"r"},{"s":"TEF2","t":"PBY1","c":"r"},
{"s":"OST5","t":"SWP1","c":"R"},{"s":"OST5","t":"OST3","c":"R"},{"s":"OST5","t":"OST1","c":"t"},{"s":"OST5","t":"WBP1","c":"t"},{"s":"SWP1","t":"OST3","c":"c"},{"s":"SWP1","t":"OST1","c":"c"},{"s":"SWP1","t":"WBP1","c":"c"},{"s":"SWP1","t":"OST4","c":"t"},{"s":"SWP1","t":"STT3","c":"t"},{"s":"SWP1","t":"OST2","c":"r"},{"s":"SWP1","t":"OST6","c":"g"},{"s":"OST3","t":"OST1","c":"r"},{"s":"OST3","t":"WBP1","c":"t"},{"s":"OST1","t":"WBP1","c":"c"},{"s":"OST1","t":"STT3","c":"c"},{"s":"OST1","t":"OST4","c":"t"},{"s":"OST1","t":"OST2","c":"t"},{"s":"OST1","t":"MNS1","c":"r"},{"s":"WBP1","t":"OST4","c":"c"},{"s":"WBP1","t":"STT3","c":"c"},{"s":"WBP1","t":"OST2","c":"R"},{"s":"WBP1","t":"OST6","c":"g"},{"s":"OST4","t":"STT3","c":"t"},{"s":"OST4","t":"OST2","c":"t"},{"s":"OST4","t":"OST6","c":"t"},{"s":"STT3","t":"OST2","c":"t"},{"s":"STT3","t":"MNS1","c":"r"},{"s":"STT3","t":"OST6","c":"t"},{"s":"OST2","t":"OST6","c":"r"},{"s":"MNS1","t":"OST6","c":"t"},
{"s":"EMP46","t":"CDC21","c":"r"},{"s":"EMP46","t":"SPC42","c":"R"},{"s":"EMP46","t":"SSP120","c":"r"},{"s":"CDC21","t":"SSP120","c":"r"},{"s":"CDC21","t":"SPC110","c":"R"},{"s":"CDC21","t":"EMP47","c":"R"},{"s":"CDC21","t":"MTM1","c":"r"},{"s":"SSP120","t":"RTC6","c":"g"},{"s":"SSP120","t":"EMP47","c":"r"},{"s":"SSP120","t":"SPC110","c":"g"},{"s":"SSP120","t":"SPC42","c":"R"},{"s":"SSP120","t":"MTM1","c":"R"},{"s":"SSP120","t":"VMA3","c":"r"},{"s":"RTC6","t":"EMP47","c":"g"},{"s":"SPC110","t":"EMP47","c":"r"},{"s":"SPC110","t":"SPC42","c":"g"},{"s":"SPC110","t":"MTM1","c":"r"},{"s":"SPC110","t":"VMA3","c":"r"},{"s":"SPC42","t":"MTM1","c":"r"},{"s":"SPC42","t":"EMP47","c":"r"},{"s":"EMP47","t":"VMA3","c":"r"},{"s":"EMP47","t":"MTM1","c":"r"},{"s":"EMP47","t":"MLO127","c":"g"},{"s":"VMA3","t":"MLO127","c":"r"},{"s":"MTM1","t":"VMA3","c":"R"}]
},
"layer":[
{"data":{"name":"panels"},
 "mark":{"type":"point","filled":true,"fill":"#4a4939","stroke":"#dcdcd8","strokeWidth":3,"size":4,"opacity":1,"fillOpacity":1,"strokeOpacity":1},
 "encoding":{
  "x":{"field":"cx","type":"quantitative","scale":{"domain":[5,1208],"nice":false,"zero":false},"axis":null},
  "y":{"field":"cy","type":"quantitative","scale":{"domain":[5,1510],"nice":false,"zero":false,"reverse":true},"axis":null},
  "shape":{"field":"p","type":"nominal","legend":null,"scale":{"domain":[1,2,3,4,5,6,7,8,9,10,11,12,13,14,15],"range":[
   "M -171 0 A 171 148 0 1 0 171 0 A 171 148 0 1 0 -171 0 Z",
   "M -157 0 A 157 140 0 1 0 157 0 A 157 140 0 1 0 -157 0 Z",
   "M -169 0 A 169 155 0 1 0 169 0 A 169 155 0 1 0 -169 0 Z",
   "M -131 0 A 131 116 0 1 0 131 0 A 131 116 0 1 0 -131 0 Z",
   "M -160 0 A 160 121 0 1 0 160 0 A 160 121 0 1 0 -160 0 Z",
   "M -146 0 A 146 104 0 1 0 146 0 A 146 104 0 1 0 -146 0 Z",
   "M -148 0 A 148 122 0 1 0 148 0 A 148 122 0 1 0 -148 0 Z",
   "M -143 0 A 143 147 0 1 0 143 0 A 143 147 0 1 0 -143 0 Z",
   "M -144 0 A 144 139 0 1 0 144 0 A 144 139 0 1 0 -144 0 Z",
   "M -149 0 A 149 125 0 1 0 149 0 A 149 125 0 1 0 -149 0 Z",
   "M -158 0 A 158 95 0 1 0 158 0 A 158 95 0 1 0 -158 0 Z",
   "M -136 0 A 136 103 0 1 0 136 0 A 136 103 0 1 0 -136 0 Z",
   "M -170 0 A 170 119 0 1 0 170 0 A 170 119 0 1 0 -170 0 Z",
   "M -128 0 A 128 112 0 1 0 128 0 A 128 112 0 1 0 -128 0 Z",
   "M -142 0 A 142 121 0 1 0 142 0 A 142 121 0 1 0 -142 0 Z"]}}
 }},
{"data":{"name":"edges"},
 "transform":[
  {"lookup":"s","from":{"data":{"name":"nodes"},"key":"n","fields":["x","y"]},"as":["x1","y1"]},
  {"lookup":"t","from":{"data":{"name":"nodes"},"key":"n","fields":["x","y"]},"as":["x2","y2"]}],
 "mark":{"type":"rule","strokeWidth":2},
 "encoding":{
  "x":{"field":"x1","type":"quantitative"},
  "y":{"field":"y1","type":"quantitative"},
  "x2":{"field":"x2"},
  "y2":{"field":"y2"},
  "color":{"field":"c","type":"nominal","legend":null,"scale":{"domain":["r","g","t","c","R","G"],"range":["#ee0a0a","#1f9a2f","#3cbf82","#8fe6f2","#ee0a0a","#1f9a2f"]}},
  "strokeDash":{"field":"c","type":"nominal","legend":null,"scale":{"domain":["r","g","t","c","R","G"],"range":[[1,0],[1,0],[1,0],[1,0],[7,4],[7,4]]}}
 }},
{"data":{"name":"nodes"},
 "mark":{"type":"point","filled":true,"opacity":1,"stroke":"#b03cb0","strokeWidth":0.5},
 "encoding":{
  "x":{"field":"x","type":"quantitative"},
  "y":{"field":"y","type":"quantitative"},
  "fill":{"field":"k","type":"nominal","legend":null,"scale":{"domain":["p","r"],"range":["#ff66f0","#ff0000"]}},
  "shape":{"field":"h","type":"nominal","legend":null,"scale":{"domain":["c","h"],"range":["circle","M -1 0 L -0.5 -0.87 L 0.5 -0.87 L 1 0 L 0.5 0.87 L -0.5 0.87 Z"]}},
  "size":{"field":"z","type":"nominal","legend":null,"scale":{"type":"ordinal","domain":["s","m","l","x"],"range":[85,170,220,290]}}
 }},
{"data":{"name":"nodes"},
 "mark":{"type":"text","align":"left","baseline":"middle","dx":1,"dy":16,"font":"DejaVu Sans","fontWeight":"bold","fontSize":15,"fill":"#33330a","stroke":"#33330a","strokeWidth":2.5,"strokeOpacity":0.8},
 "encoding":{"x":{"field":"x","type":"quantitative"},"y":{"field":"y","type":"quantitative"},"text":{"field":"n"}}},
{"data":{"name":"nodes"},
 "mark":{"type":"text","align":"left","baseline":"middle","dx":1,"dy":16,"font":"DejaVu Sans","fontWeight":"bold","fontSize":15,"fill":"#ffff14"},
 "encoding":{"x":{"field":"x","type":"quantitative"},"y":{"field":"y","type":"quantitative"},"text":{"field":"n"}}}
],
"resolve":{"scale":{"shape":"independent","color":"independent","size":"independent","fill":"independent","strokeDash":"independent"}}
}
